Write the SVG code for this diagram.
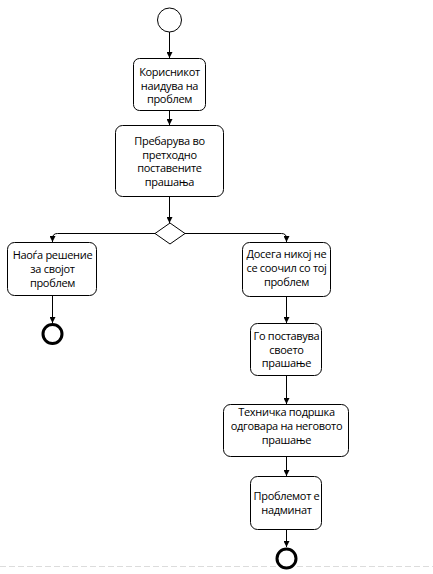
<svg xmlns="http://www.w3.org/2000/svg" width="433" height="574" viewBox="0 0 433 574">
<style>
.node rect{fill:#fff;stroke:#000;stroke-width:1}
.node text{font-family:"Open Sans","Noto Sans",sans-serif;font-size:11px;letter-spacing:-0.3px;fill:#000;text-anchor:middle}
.edge{fill:none;stroke:#000;stroke-width:1}
.end{fill:#fff;stroke:#000;stroke-width:3}
</style>
<defs>
<marker id="arr" viewBox="0 0 8 8" refX="8" refY="4" markerWidth="6" markerHeight="6" orient="auto" markerUnits="userSpaceOnUse">
<path d="M0,0 L8,4 L0,8 Z" fill="#000"/>
</marker>
</defs>
<rect width="433" height="574" fill="#fff"/>
<line x1="0" y1="566.5" x2="433" y2="566.5" stroke="#dcdcdc" stroke-width="1" stroke-dasharray="6,3"/>
<g id="connectors">
<path class="edge" d="M169.5,32 V58" marker-end="url(#arr)"/>
<path class="edge" d="M169.5,111 V125" marker-end="url(#arr)"/>
<path class="edge" d="M169.5,197 V223" marker-end="url(#arr)"/>
<path class="edge" d="M155,233.5 H57.5 Q52.5,233.5 52.5,238.5 V242" marker-end="url(#arr)"/>
<path class="edge" d="M185,233.5 H281.5 Q286.5,233.5 286.5,238.5 V242" marker-end="url(#arr)"/>
<path class="edge" d="M52.5,296 V323" marker-end="url(#arr)"/>
<path class="edge" d="M286.5,297 V323" marker-end="url(#arr)"/>
<path class="edge" d="M286.5,376 V404" marker-end="url(#arr)"/>
<path class="edge" d="M286.5,457 V476" marker-end="url(#arr)"/>
<path class="edge" d="M286.5,530 V547" marker-end="url(#arr)"/>
</g>
<g id="start"><circle cx="169.5" cy="20" r="12" fill="#fff" stroke="#000" stroke-width="1"/></g>
<g id="n1" class="node"><rect x="133.5" y="58.5" width="72" height="52" rx="6"/>
<text x="169.5" y="76">Корисникот</text><text x="169.5" y="89.5">наидува на</text><text x="169.5" y="103">проблем</text></g>
<g id="n2" class="node"><rect x="115.5" y="125.5" width="108" height="71" rx="7"/>
<text x="169.5" y="145">Пребарува во</text><text x="169.5" y="158.5">претходно</text><text x="169.5" y="172">поставените</text><text x="169.5" y="185.5">прашања</text></g>
<g id="decision"><path d="M170,223 L185,233.5 L170,244 L155,233.5 Z" fill="#fff" stroke="#000" stroke-width="1"/></g>
<g id="n3" class="node"><rect x="7.5" y="242.5" width="89" height="53" rx="7"/>
<text x="52.5" y="258.5">Наоѓа решение</text><text x="52.5" y="272.5">за својот</text><text x="52.5" y="286.5">проблем</text></g>
<g id="end1"><circle class="end" cx="52.5" cy="334" r="9.5"/></g>
<g id="n4" class="node"><rect x="242.5" y="242.5" width="88" height="54" rx="7"/>
<text x="286.5" y="257.5">Досега никој не</text><text x="286.5" y="271.5">се соочил со тој</text><text x="286.5" y="285.5">проблем</text></g>
<g id="n5" class="node"><rect x="250.5" y="323.5" width="71" height="52" rx="7"/>
<text x="286.5" y="340">Го поставува</text><text x="286.5" y="353.5">своето</text><text x="286.5" y="367">прашање</text></g>
<g id="n6" class="node"><rect x="223.5" y="404.5" width="125" height="52" rx="7"/>
<text x="286.5" y="416">Техничка подршка</text><text x="286.5" y="430">одговара на неговото</text><text x="286.5" y="444">прашање</text></g>
<g id="n7" class="node"><rect x="250.5" y="476.5" width="71" height="53" rx="7"/>
<text x="286.5" y="500">Проблемот е</text><text x="286.5" y="514">надминат</text></g>
<g id="end2"><circle class="end" cx="286.5" cy="558.5" r="9.5"/></g>
</svg>
